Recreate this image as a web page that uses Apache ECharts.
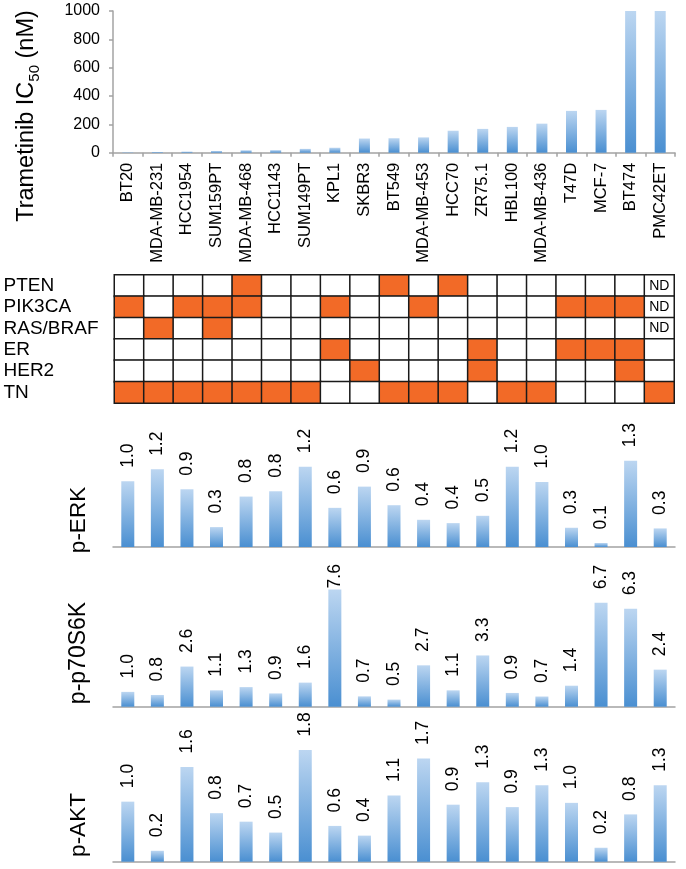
<!DOCTYPE html>
<html><head><meta charset="utf-8">
<script src="https://cdn.jsdelivr.net/npm/echarts@6/dist/echarts.min.js"></script>
<style>html,body{margin:0;padding:0;background:#fff}#c{width:686px;height:869px}</style>
</head><body><div id="c"></div>
<script>
// ---- data ----
const cellLines = ['BT20','MDA-MB-231','HCC1954','SUM159PT','MDA-MB-468','HCC1143','SUM149PT','KPL1','SKBR3','BT549','MDA-MB-453','HCC70','ZR75.1','HBL100','MDA-MB-436','T47D','MCF-7','BT474','PMC42ET'];
const ic50 = [3,5,8,12,17,18,27,35,100,102,108,155,168,182,205,295,302,1000,1000];
const ic50Ticks = [0,200,400,600,800,1000];
const markerNames = ['PTEN','PIK3CA','RAS/BRAF','ER','HER2','TN'];
// 1 = altered / positive, 0 = not, 2 = ND
const PTEN     = [0,0,0,0,1,0,0,0,0,1,0,1,0,0,0,0,0,0,2];
const PIK3CA   = [1,0,1,1,1,0,0,1,0,0,1,0,0,0,0,1,1,1,2];
const RAS_BRAF = [0,1,0,1,0,0,0,0,0,0,0,0,0,0,0,0,0,0,2];
const ER       = [0,0,0,0,0,0,0,1,0,0,0,0,1,0,0,1,1,1,0];
const HER2     = [0,0,0,0,0,0,0,0,1,0,0,0,1,0,0,0,0,1,0];
const TN       = [1,1,1,1,1,1,1,0,0,1,1,1,0,1,1,0,0,0,1];
const pERK  = [0.99,1.17,0.87,0.30,0.76,0.84,1.21,0.59,0.91,0.63,0.41,0.36,0.47,1.21,0.98,0.29,0.06,1.30,0.28];
const pS6K  = [0.96,0.76,2.6,1.06,1.27,0.86,1.56,7.6,0.67,0.46,2.68,1.06,3.32,0.89,0.66,1.36,6.74,6.34,2.4];
const pAKT  = [0.99,0.18,1.56,0.80,0.66,0.48,1.84,0.59,0.43,1.09,1.70,0.94,1.31,0.90,1.26,0.97,0.23,0.78,1.26];

// ---- build ----
const FONT = 'Liberation Sans, Arial, Helvetica, sans-serif';
const ORANGE = '#f26a27';
const AXIS_GREY = '#a3a3a3';
const barGrad = () => new echarts.graphic.LinearGradient(0,0,0,1,[
  {offset:0,color:'#bcd6f1'},{offset:1,color:'#4a8fd1'}]);

const markerRows = [PTEN,PIK3CA,RAS_BRAF,ER,HER2,TN];
const heatData = [];
markerRows.forEach((row,r)=>row.forEach((v,c)=>heatData.push([c,r,v])));

const chart = echarts.init(document.getElementById('c'), null, {renderer:'canvas'});

const GL = 113, GW = 562;
const lower = [
  {vals:pERK, top:414.3, h:132.7, max:2},
  {vals:pS6K, top:583.2, h:123.5, max:8},
  {vals:pAKT, top:740.4, h:121.3, max:2}
];

const grids = [
  {left:GL, top:11, width:GW, height:141.7},
  {left:114.5, top:275, width:559.5, height:128}
].concat(lower.map(l=>({left:GL, top:l.top, width:GW, height:l.h})));

const xAxes = [
  {type:'category', gridIndex:0, data:cellLines,
   axisLine:{lineStyle:{color:AXIS_GREY,width:1.5}},
   axisTick:{show:true,length:4,alignWithLabel:false,lineStyle:{color:AXIS_GREY,width:1.5}},
   axisLabel:{rotate:90,margin:10,color:'#000',fontSize:16.5,fontFamily:FONT,interval:0}},
  {type:'category', gridIndex:1, data:cellLines, show:false}
].concat(lower.map((l,i)=>({type:'category', gridIndex:i+2, data:cellLines,
   axisLine:{lineStyle:{color:AXIS_GREY,width:1.5}}, axisTick:{show:false}, axisLabel:{show:false}})));

const yAxes = [
  {type:'value', gridIndex:0, min:ic50Ticks[0], max:ic50Ticks[ic50Ticks.length-1], interval:200,
   axisLine:{show:true,lineStyle:{color:AXIS_GREY,width:1.5}},
   axisTick:{show:true,length:4,lineStyle:{color:AXIS_GREY,width:1.5}},
   splitLine:{show:false},
   axisLabel:{margin:13,color:'#000',fontSize:16,fontFamily:FONT,formatter:v=>String(v)}},
  {type:'category', gridIndex:1, data:markerNames, inverse:true,
   axisLine:{show:false}, axisTick:{show:false},
   axisLabel:{interval:0,align:'left',margin:111,color:'#000',fontSize:19,fontFamily:FONT}}
].concat(lower.map((l,i)=>({type:'value', gridIndex:i+2, min:0, max:l.max, show:false, splitLine:{show:false}})));

const valueLabel = {show:true, position:'top', rotate:90, align:'left', verticalAlign:'middle',
  distance:13.5, color:'#000', fontSize:17.5, fontFamily:FONT,
  formatter:p=>(+p.value).toFixed(1)};

const series = [
  {type:'bar', xAxisIndex:0, yAxisIndex:0, data:ic50, barWidth:11,
   itemStyle:{color:barGrad()}},
  {type:'heatmap', xAxisIndex:1, yAxisIndex:1, data:heatData,
   itemStyle:{borderColor:'#1a1a1a', borderWidth:1.5},
   label:{show:true, color:'#000', fontSize:14, fontFamily:FONT,
     formatter:p=>p.value[2]===2?'ND':''},
   emphasis:{disabled:true}}
].concat(lower.map((l,i)=>{
  const mx = Math.max(...l.vals);
  return {type:'bar', xAxisIndex:i+2, yAxisIndex:i+2, barWidth:13,
   itemStyle:{color:barGrad()}, label:valueLabel,
   data:l.vals.map(v=> (i===1 && v===mx) ? {value:v,label:{distance:1}} : v)};
}));

const rotText = (x,y,txt,size)=>({type:'text', x:x, y:y, rotation:Math.PI/2,
  style:{text:txt, fontSize:size, fontFamily:FONT, fill:'#000', align:'center', verticalAlign:'middle'}});

chart.setOption({
  backgroundColor:'#fff',
  animation:false,
  grid:grids,
  xAxis:xAxes,
  yAxis:yAxes,
  visualMap:{type:'piecewise', show:false, seriesIndex:1, dimension:2,
    pieces:[{value:0,color:'#ffffff'},{value:1,color:ORANGE},{value:2,color:'#ffffff'}]},
  series:series,
  graphic:[
    {type:'text', x:27, y:116, rotation:Math.PI/2,
     style:{text:'{a|Trametinib IC}{s|50}{a| (nM)}', align:'center', verticalAlign:'middle', fill:'#000',
       rich:{a:{fontSize:23.5, fontFamily:FONT, fill:'#000', lineHeight:30, verticalAlign:'middle'},
             s:{fontSize:15, fontFamily:FONT, fill:'#000', lineHeight:15, verticalAlign:'bottom', padding:[9,0,0,0]}}}},
    rotText(79,520,'p-ERK',22.5),
    rotText(79,653,'p-p70S6K',23),
    rotText(79,825,'p-AKT',22.5)
  ]
});
</script></body></html>
